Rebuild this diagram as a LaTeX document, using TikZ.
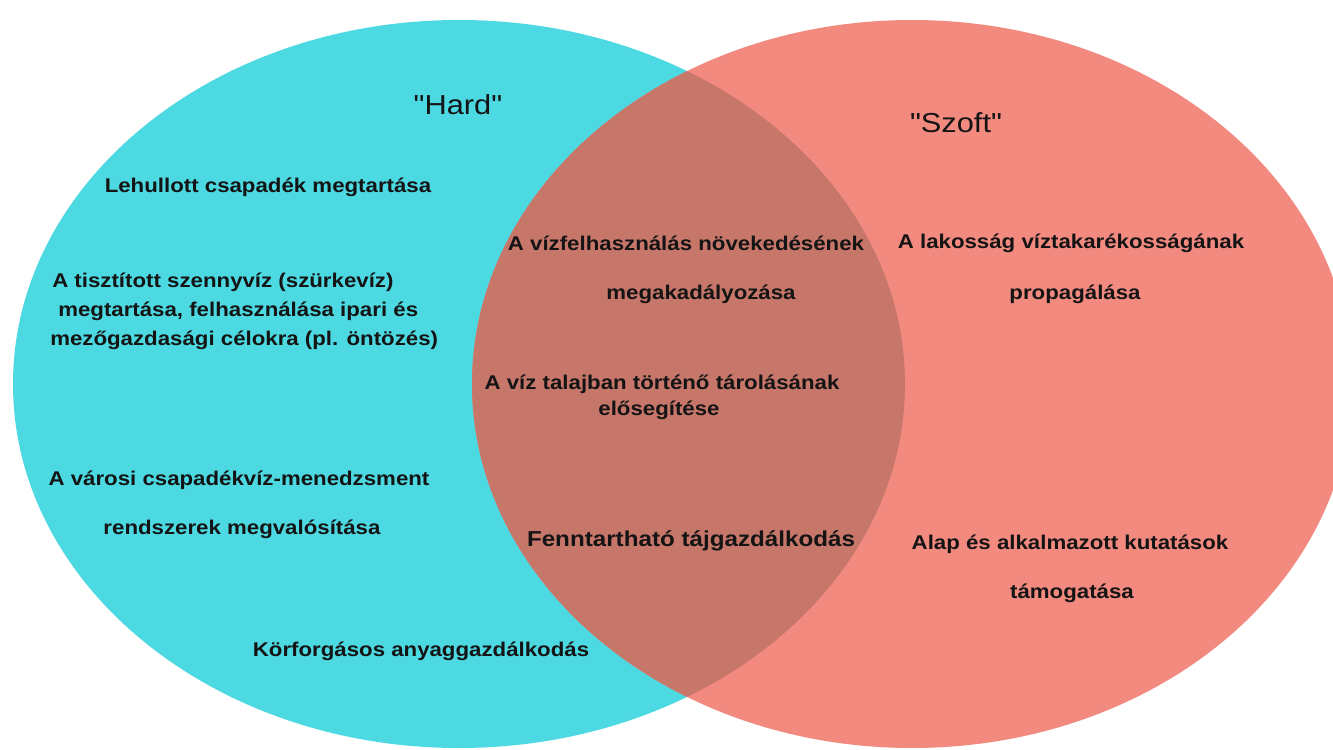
\documentclass[tikz,border=0pt]{standalone}
\usepackage{fontspec}
\setmainfont{Liberation Sans}[FakeStretch=1.12]
\newfontfamily\titlefont{Liberation Sans}[FakeStretch=1.12,Ligatures=TeXOff]
\definecolor{cyanfill}{RGB}{76,217,226}
\definecolor{salmonfill}{RGB}{242,138,128}
\definecolor{overlapfill}{RGB}{199,118,106}
\definecolor{txtcol}{RGB}{20,20,20}
\begin{document}
\begin{tikzpicture}[x=0.75pt,y=-0.75pt,
  txt/.style={font=\bfseries\fontsize{14.9}{17}\selectfont, inner sep=0pt, text=txtcol},
  bigtxt/.style={font=\bfseries\fontsize{16.2}{19}\selectfont, inner sep=0pt, text=txtcol},
  title/.style={font=\titlefont\fontsize{20.6}{24}\selectfont, inner sep=0pt, text=txtcol}]
\useasboundingbox (0,0) rectangle (1333,749);
\fill[white] (0,0) rectangle (1333,749);
\fill[cyanfill] (459,384) ellipse [x radius=446, y radius=364];
\fill[salmonfill] (912,384) ellipse [x radius=440, y radius=364];
\begin{scope}
  \clip (459,384) ellipse [x radius=446, y radius=364];
  \fill[overlapfill] (912,384) ellipse [x radius=440, y radius=364];
\end{scope}
% titles
\node[title] (hard) at (458,105) {"Hard"};
\node[title] (szoft) at (956,123) {"Szoft"};
% left
\node[txt] (n1) at (268,187) {Lehullott csapadék megtartása};
\node[txt,anchor=west] (n2a) at (52,282) {A tisztított szennyvíz (szürkevíz)};
\node[txt,anchor=west] (n2b) at (58,311) {megtartása, felhasználása ipari és};
\node[txt,anchor=west] (n2c) at (50,340) {mezőgazdasági célokra (pl. öntözés)};
\node[txt] (n3a) at (239,480) {A városi csapadékvíz-menedzsment};
\node[txt] (n3b) at (242,529) {rendszerek megvalósítása};
\node[txt] (n4) at (421,651) {Körforgásos anyaggazdálkodás};
% middle
\node[txt] (m1a) at (686,243) {A vízfelhasználás növekedésének};
\node[txt] (m1b) at (701,294) {megakadályozása};
\node[txt] (m2a) at (662,384) {A víz talajban történő tárolásának};
\node[txt] (m2b) at (659,410) {elősegítése};
\node[bigtxt] (m3) at (691,541) {Fenntartható tájgazdálkodás};
% right
\node[txt] (s1a) at (1071,243) {A lakosság víztakarékosságának};
\node[txt] (s1b) at (1075,294) {propagálása};
\node[txt] (s2a) at (1070,544) {Alap és alkalmazott kutatások};
\node[txt] (s2b) at (1072,593) {támogatása};
\end{tikzpicture}
\end{document}
